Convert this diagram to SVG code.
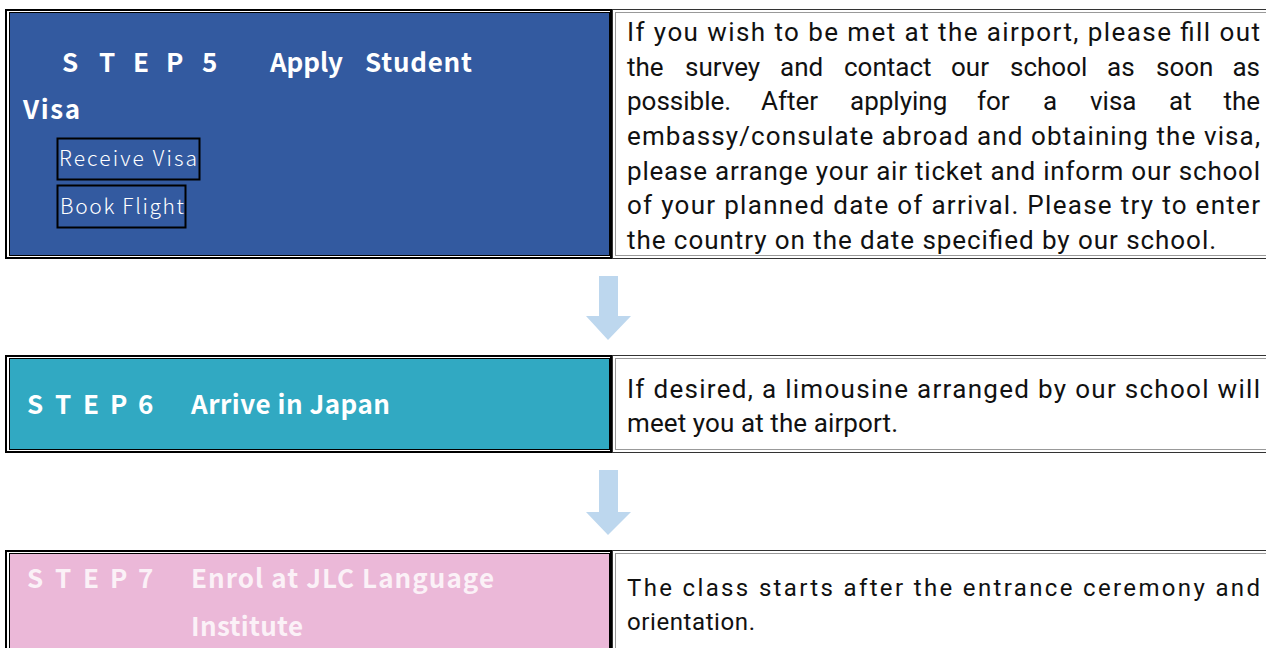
<svg xmlns="http://www.w3.org/2000/svg" width="1266" height="648" viewBox="0 0 1266 648">
<style>
.outer{fill:none;stroke:#000;stroke-width:2}
.inner{stroke:#000;stroke-width:1}
.rout{fill:#fff;stroke:#333;stroke-width:1}
.rin{fill:none;stroke:#999;stroke-width:1}
.title{font-family:"Noto Sans CJK JP","Noto Sans",sans-serif;font-weight:bold;font-size:26px;fill:#fff}
.sub{font-family:"Noto Sans CJK JP","Noto Sans",sans-serif;font-weight:300;font-size:21px;fill:#fff}
.body{font-family:Roboto,"Noto Sans",sans-serif;font-size:26px;fill:#111}
.body2{font-family:Roboto,"Noto Sans",sans-serif;font-size:24px;fill:#111}
.end{text-anchor:end}
.arrow{fill:#BDD7EE}
</style>
<rect width="1266" height="648" fill="#fff"/>

<g id="step5">
  <rect class="outer" x="6" y="10" width="605" height="248"/>
  <rect class="inner" x="9.5" y="12.5" width="600" height="243" fill="#335AA0"/>
  <text class="title" y="72"><tspan x="62">S</tspan><tspan x="99">T</tspan><tspan x="133">E</tspan><tspan x="166">P</tspan><tspan x="202">5</tspan><tspan x="270" textLength="73">Apply</tspan><tspan x="365" textLength="107">Student</tspan></text>
  <text class="title" x="23" y="119" textLength="57">Visa</text>
  <rect x="57.5" y="138.5" width="142" height="41" fill="none" stroke="#000" stroke-width="2"/>
  <text class="sub" x="59" y="166" textLength="138">Receive Visa</text>
  <rect x="57.5" y="185.5" width="128" height="42" fill="none" stroke="#000" stroke-width="2"/>
  <text class="sub" x="60" y="214" textLength="124">Book Flight</text>
</g>
<g id="step5-desc">
  <rect class="rout" x="612.5" y="9.5" width="670" height="249"/>
  <rect class="rin" x="615.5" y="12.5" width="670" height="243"/>
  <text class="body" x="627" y="41" textLength="633" lengthAdjust="spacing">If you wish to be met at the airport, please fill out</text>
  <text class="body" y="76"><tspan x="627">the</tspan><tspan x="685">survey</tspan><tspan x="780">and</tspan><tspan x="844">contact</tspan><tspan x="951">our</tspan><tspan x="1010">school</tspan><tspan x="1107">as</tspan><tspan x="1156">soon</tspan></text>
  <text class="body end" x="1260" y="76">as</text>
  <text class="body" y="110"><tspan x="627">possible.</tspan><tspan x="761">After</tspan><tspan x="850">applying</tspan><tspan x="977">for</tspan><tspan x="1043">a</tspan><tspan x="1090">visa</tspan><tspan x="1169">at</tspan></text>
  <text class="body end" x="1260" y="110">the</text>
  <text class="body" x="627" y="145" textLength="633" lengthAdjust="spacing">embassy/consulate abroad and obtaining the visa,</text>
  <text class="body" x="627" y="180" textLength="633" lengthAdjust="spacing">please arrange your air ticket and inform our school</text>
  <text class="body" x="627" y="214" textLength="633" lengthAdjust="spacing">of your planned date of arrival. Please try to enter</text>
  <text class="body" x="627" y="249" textLength="589" lengthAdjust="spacing">the country on the date specified by our school.</text>
</g>

<g id="step6">
  <rect class="outer" x="6" y="356" width="605" height="96"/>
  <rect class="inner" x="9.5" y="358.5" width="600" height="91" fill="#31A9C2"/>
  <text class="title" y="414"><tspan x="27">S</tspan><tspan x="55">T</tspan><tspan x="83">E</tspan><tspan x="110">P</tspan><tspan x="138">6</tspan><tspan x="191" textLength="199">Arrive in Japan</tspan></text>
</g>
<g id="step6-desc">
  <rect class="rout" x="612.5" y="355.5" width="670" height="97"/>
  <rect class="rin" x="615.5" y="358.5" width="670" height="91"/>
  <text class="body" x="627" y="398" textLength="633" lengthAdjust="spacing">If desired, a limousine arranged by our school will</text>
  <text class="body" x="627" y="432" textLength="271" lengthAdjust="spacing">meet you at the airport.</text>
</g>

<g id="step7">
  <rect class="outer" x="6" y="551" width="605" height="110"/>
  <rect class="inner" x="9.5" y="553.5" width="600" height="110" fill="#EBB8D8"/>
  <text class="title" y="588" style="fill:#FBF1F7"><tspan x="27">S</tspan><tspan x="55">T</tspan><tspan x="83">E</tspan><tspan x="110">P</tspan><tspan x="138">7</tspan><tspan x="191" textLength="303">Enrol at JLC Language</tspan></text>
  <text class="title" x="191" y="636" textLength="112" style="fill:#FBF1F7">Institute</text>
</g>
<g id="step7-desc">
  <rect class="rout" x="612.5" y="550.5" width="670" height="110"/>
  <rect class="rin" x="615.5" y="553.5" width="670" height="110"/>
  <text class="body2" x="627" y="596" textLength="633" lengthAdjust="spacing">The class starts after the entrance ceremony and</text>
  <text class="body2" x="627" y="630" textLength="128" lengthAdjust="spacing">orientation.</text>
</g>

<g id="connectors">
  <path class="arrow" d="M599 276 H618 V316 H631 L608 340 L586 316 H599 Z"/>
  <path class="arrow" d="M599 470 H618 V512 H631 L608 535 L586 512 H599 Z"/>
</g>
</svg>
